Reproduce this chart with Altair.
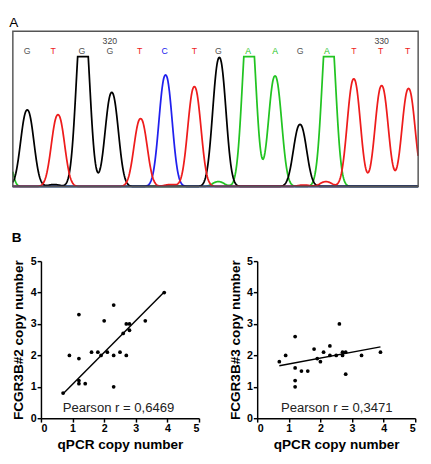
import numpy as np
import pandas as pd
import altair as alt

FONT = "Liberation Sans"

# ---------------- Panel A: sequencing chromatogram ----------------
bases = list("GTGGTCTGAAGATTT")
label_x = [19, 46, 76, 105, 136, 162, 193, 218, 249, 277, 303, 331, 359, 387, 415]
peak_x = [19, 51, 77, 107, 137, 163, 193, 219, 250, 277, 303, 333, 359, 388, 416]
peak_h = [79, 74, 185, 97, 70, 115, 103, 133, 185, 114, 64, 185, 111, 104, 101]
# small secondary / edge peaks
minor_base = ["A", "G", "T", "A", "T", "T", "T"]
minor_x = [0, 47, 168, 218, 307, 330, 444]
minor_h = [25, 2, 2, 5, 1.5, 5, 90]
minor_w = [5.5, 8, 8, 8, 8, 8, 9.2]
pos_numbers = ["320", "330"]
pos_numbers_x = [105, 388]
CLIP = 134
WIDTH = 9.2
SHAPE = 2.2

xs = np.arange(4, 426.01, 0.5)


def peak(x0, h, w):
    return h * np.exp(-np.abs((xs - x0) / w) ** SHAPE)


rows = []
for b in ["A", "C", "G", "T"]:
    y = np.zeros_like(xs)
    for bb, p, h in zip(bases, peak_x, peak_h):
        if bb == b:
            y += peak(p, h, WIDTH)
    for bb, p, h, w in zip(minor_base, minor_x, minor_h, minor_w):
        if bb == b:
            y += peak(p, h, w)
    y = np.minimum(y, CLIP)
    rows.append(pd.DataFrame({"x": xs, "y": y, "base": b}))
trace_df = pd.concat(rows, ignore_index=True)

base_colors = {"A": "#22c422", "C": "#2020ee", "G": "#000000", "T": "#ee1c1c"}
label_colors = {"A": "#22c422", "C": "#2020ee", "G": "#555555", "T": "#ee1c1c"}

# The panel-A view is aligned with the left scatter's plot area by the concat
# layout; its content is extended to the left by LEFT px so the box starts at
# the figure's left edge.
LEFT = 29
TOP_W = 418
xsc = alt.Scale(domain=[4, 426], range=[-LEFT, TOP_W - LEFT], nice=False, zero=False)
ysc = alt.Scale(domain=[0, 160], nice=False)

trace = alt.Chart(trace_df).mark_line(strokeWidth=1.8).encode(
    x=alt.X("x:Q", scale=xsc, axis=None),
    y=alt.Y("y:Q", scale=ysc, axis=None),
    color=alt.Color("base:N", scale=alt.Scale(domain=list(base_colors), range=list(base_colors.values())), legend=None),
    detail="base:N",
)

lab_df = pd.DataFrame({"x": label_x, "base": bases})
labels = alt.Chart(lab_df).mark_text(fontSize=9, font=FONT, baseline="middle").encode(
    x=alt.X("x:Q", scale=xsc, axis=None),
    y=alt.Y("yy:Q", scale=ysc, axis=None),
    text="base:N",
    color=alt.Color("base:N", scale=alt.Scale(domain=list(label_colors), range=list(label_colors.values())), legend=None),
).transform_calculate(yy="140")

num_df = pd.DataFrame({"x": pos_numbers_x, "t": pos_numbers})
nums = alt.Chart(num_df).mark_text(fontSize=9, font=FONT, color="#444444", baseline="middle").encode(
    x=alt.X("x:Q", scale=xsc, axis=None),
    y=alt.Y("yy:Q", scale=ysc, axis=None),
    text="t:N",
).transform_calculate(yy="150")

frame_df = pd.DataFrame({"k": [0]})
baseline = alt.Chart(frame_df).mark_rule(color="#1a1a6e", strokeWidth=1.5).encode(
    x=alt.value(-LEFT), x2=alt.value(TOP_W - LEFT), y=alt.value(160)
)
frame = alt.Chart(frame_df).mark_rect(fill="transparent", stroke="#555555", strokeWidth=1.5).encode(
    x=alt.value(-LEFT), x2=alt.value(TOP_W - LEFT), y=alt.value(0), y2=alt.value(160)
)

top = alt.layer(trace, baseline, frame, labels, nums).resolve_scale(color="independent").properties(
    width=TOP_W - LEFT,
    height=160,
    title=alt.TitleParams("A", anchor="start", fontSize=14, fontWeight="normal", font=FONT, offset=1),
)

# ---------------- Panel B: scatter plots ----------------
q2 = [0.7, 0.9, 1.2, 1.2, 1.2, 1.2, 1.4, 1.6, 1.8, 1.9, 2.0, 2.1, 2.3, 2.3, 2.3, 2.5, 2.6, 2.7, 2.7, 2.8, 2.8, 3.3, 3.9]
f2 = [0.8, 2.0, 3.3, 1.9, 1.2, 1.1, 1.1, 2.1, 2.1, 2.0, 3.1, 2.1, 3.6, 2.0, 1.0, 2.1, 2.7, 3.0, 2.0, 3.0, 2.8, 3.1, 4.0]
fit2_x = [0.7, 3.9]
fit2_y = [0.78, 4.02]

q3 = [0.7, 0.9, 1.2, 1.2, 1.2, 1.2, 1.4, 1.6, 1.8, 1.9, 2.0, 2.1, 2.3, 2.3, 2.5, 2.6, 2.7, 2.7, 2.8, 2.8, 3.3, 3.9]
f3 = [1.8, 2.0, 2.6, 1.6, 1.2, 1.0, 1.5, 1.5, 2.2, 1.9, 1.8, 2.1, 2.3, 2.0, 2.0, 3.0, 2.0, 2.1, 2.1, 1.4, 2.0, 2.1]
fit3_x = [0.7, 3.9]
fit3_y = [1.67, 2.27]

ticks = [0, 1, 2, 3, 4, 5]
PH = 162


def scatter(qv, fv, fx, fy, ytitle, rtext, text_x):
    sx = alt.Scale(domain=[0, 5], nice=False)
    sy = alt.Scale(domain=[0, 5], nice=False)
    xenc = alt.X("q:Q", scale=sx, axis=alt.Axis(values=ticks, title="qPCR copy number", format="d", labelOverlap=False))
    yenc = alt.Y("f:Q", scale=sy, axis=alt.Axis(values=ticks, title=ytitle, format="d", labelOverlap=False))
    pts = alt.Chart(pd.DataFrame({"q": qv, "f": fv})).mark_circle(size=15, color="black", opacity=1).encode(
        x=xenc, y=yenc
    )
    line = alt.Chart(pd.DataFrame({"q": fx, "f": fy})).mark_line(color="black", strokeWidth=1.5).encode(
        x=xenc, y=yenc
    )
    txt = alt.Chart(pd.DataFrame({"label": [rtext]})).mark_text(
        fontSize=13.5, font=FONT, color="#222222", baseline="middle"
    ).encode(x=alt.value(text_x), y=alt.value(PH - 10), text="label:N")
    return alt.layer(pts, line, txt).properties(width=163, height=PH)


left = scatter(q2, f2, fit2_x, fit2_y, "FCGR3B#2 copy number", "Pearson r = 0,6469", 80)
right = scatter(q3, f3, fit3_x, fit3_y, "FCGR3B#3 copy number", "Pearson r = 0,3471", 82)

bottom = alt.hconcat(left, right, spacing=27).properties(
    title=alt.TitleParams("B", anchor="start", fontSize=14, fontWeight="bold", font=FONT, offset=10)
)

chart = alt.vconcat(top, bottom, spacing=41).properties(padding=0).configure_view(
    stroke="transparent"
).configure_axis(
    labelFont=FONT, labelFontWeight="bold", labelFontSize=11, labelColor="black",
    titleFont=FONT, titleFontWeight="bold", titleFontSize=14, titleColor="black",
    domainColor="black", domainWidth=1.5, tickColor="black", tickWidth=1.5, tickSize=4,
    grid=False, labelPadding=1, titlePadding=4.5,
).configure_title(color="black")

chart.save("out.html", embed_options={"renderer": "svg", "actions": False})
